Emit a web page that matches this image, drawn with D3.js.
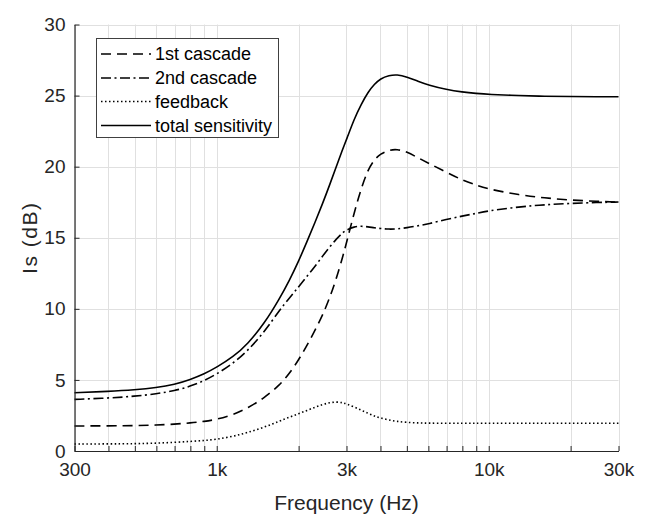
<!DOCTYPE html>
<html><head><meta charset="utf-8">
<script src="https://cdn.jsdelivr.net/npm/d3@7"></script>
<style>body{margin:0;background:#fff}svg{display:block}</style>
</head><body><div id="chart"></div>
<script>
const freq =      [300, 400, 500, 600, 700, 800, 900, 1000, 1150, 1300, 1500, 1700, 1850, 2000, 2150, 2300, 2450, 2600, 2750, 2900, 3000, 3200, 3400, 3600, 3800, 4000, 4300, 4600, 5000, 5500, 6000, 7000, 8000, 9000, 10000, 13000, 16000, 20000, 25000, 30000];
const cascade1 =  [1.76, 1.77, 1.78, 1.82, 1.89, 1.97, 2.08, 2.22, 2.55, 3.02, 3.75, 4.62, 5.45, 6.40, 7.45, 8.50, 9.55, 10.75, 12.1, 13.6, 14.65, 16.75, 18.5, 19.8, 20.5, 20.9, 21.17, 21.23, 21.05, 20.62, 20.25, 19.6, 19.05, 18.7, 18.42, 18.0, 17.8, 17.65, 17.56, 17.51];
const cascade2 =  [3.63, 3.72, 3.85, 4.02, 4.24, 4.55, 4.95, 5.41, 6.17, 7.05, 8.40, 9.90, 10.75, 11.55, 12.3, 13.0, 13.7, 14.35, 14.9, 15.35, 15.55, 15.78, 15.82, 15.77, 15.70, 15.65, 15.6, 15.62, 15.70, 15.84, 15.98, 16.29, 16.53, 16.71, 16.90, 17.18, 17.32, 17.42, 17.48, 17.51];
const feedback =  [0.49, 0.50, 0.51, 0.55, 0.61, 0.67, 0.74, 0.82, 1.03, 1.30, 1.68, 2.10, 2.38, 2.62, 2.86, 3.08, 3.27, 3.40, 3.46, 3.40, 3.32, 3.10, 2.87, 2.65, 2.46, 2.32, 2.18, 2.08, 2.01, 1.97, 1.96, 1.95, 1.95, 1.95, 1.95, 1.95, 1.95, 1.95, 1.95, 1.95];
const total =     [4.10, 4.19, 4.30, 4.45, 4.68, 5.03, 5.42, 5.89, 6.62, 7.52, 9.00, 10.7, 12.0, 13.35, 14.75, 16.1, 17.4, 18.7, 20.0, 21.2, 21.9, 23.35, 24.4, 25.25, 25.8, 26.2, 26.42, 26.48, 26.32, 26.0, 25.74, 25.42, 25.25, 25.15, 25.08, 25.0, 24.95, 24.93, 24.92, 24.92];
const xTickValues = [300, 1000, 3000, 10000, 30000];
const xTickLabels = ["300", "1k", "3k", "10k", "30k"];
const yTickValues = [0, 5, 10, 15, 20, 25, 30];
const seriesNames = ["1st cascade", "2nd cascade", "feedback", "total sensitivity"];
const xTitle = "Frequency (Hz)";
const yTitle = "Is (dB)";

const W = 645, H = 529;
const m = {left: 74.5, right: 645 - 618.5, top: 24.5, bottom: 529 - 451};
const svg = d3.select("#chart").append("svg").attr("width", W).attr("height", H)
  .style("font-family", "Arial, 'Liberation Sans', Helvetica, sans-serif");

const x = d3.scaleLog().domain([300, 30000]).range([m.left, W - m.right]);
const y = d3.scaleLinear().domain([0, 30]).range([H - m.bottom, m.top]);

const axisColor = "#262626";
const gridColor = "#e0e0e0";

// grid
const minorTicks = x.ticks();
svg.append("g").selectAll("line").data(minorTicks).join("line")
  .attr("x1", d => Math.round(x(d)) + 0.5).attr("x2", d => Math.round(x(d)) + 0.5)
  .attr("y1", y(0)).attr("y2", y(30))
  .attr("stroke", gridColor).attr("stroke-width", 1);
svg.append("g").selectAll("line").data(yTickValues).join("line")
  .attr("x1", x(300)).attr("x2", x(30000))
  .attr("y1", d => Math.round(y(d)) + 0.5).attr("y2", d => Math.round(y(d)) + 0.5)
  .attr("stroke", gridColor).attr("stroke-width", 1);

// series
const line = d3.line().x(d => x(d[0])).y(d => y(d[1])).curve(d3.curveBasis);
const series = [
  {name: seriesNames[0], vals: cascade1, dash: "10,6"},
  {name: seriesNames[1], vals: cascade2, dash: "10,3.5,2,3.5"},
  {name: seriesNames[2], vals: feedback, dash: "1.5,2.5"},
  {name: seriesNames[3], vals: total, dash: null}
];
const plot = svg.append("g");
series.forEach(s => {
  plot.append("path").datum(freq.map((f, i) => [f, s.vals[i]]))
    .attr("d", line).attr("fill", "none").attr("stroke", "#000")
    .attr("stroke-width", 1.6).attr("stroke-dasharray", s.dash);
});

// axes
const xAxis = svg.append("g").attr("transform", `translate(0,${y(0)})`)
  .call(d3.axisBottom(x).tickValues(minorTicks).tickSizeInner(-5).tickSizeOuter(0)
    .tickFormat(d => { const i = xTickValues.indexOf(d); return i >= 0 ? xTickLabels[i] : ""; }));
xAxis.select(".domain").attr("stroke", axisColor).attr("stroke-width", 1.2);
xAxis.selectAll(".tick line").attr("stroke", axisColor);
xAxis.selectAll(".tick text").attr("fill", axisColor).attr("font-size", 19).attr("y", 12).attr("dy", "0.71em");

const yAxis = svg.append("g").attr("transform", `translate(${x(300)},0)`)
  .call(d3.axisLeft(y).tickValues(yTickValues).tickSizeInner(-5).tickSizeOuter(0));
yAxis.select(".domain").attr("stroke", axisColor).attr("stroke-width", 1.2);
yAxis.selectAll(".tick line").attr("stroke", axisColor);
yAxis.selectAll(".tick text").attr("fill", axisColor).attr("font-size", 19).attr("x", -9);

svg.append("text").attr("x", (x(300) + x(30000)) / 2).attr("y", 510)
  .attr("text-anchor", "middle").attr("font-size", 21).attr("fill", axisColor).text(xTitle);
svg.append("text").attr("transform", `translate(37,${(y(0) + y(30)) / 2}) rotate(-90)`)
  .attr("text-anchor", "middle").attr("font-size", 21).attr("letter-spacing", 1.5)
  .attr("fill", axisColor).text(yTitle);

// legend
const lg = svg.append("g");
lg.append("rect").attr("x", 96.5).attr("y", 38.5).attr("width", 182).attr("height", 99)
  .attr("fill", "#fff").attr("stroke", "#404040").attr("stroke-width", 1);
const legY = [54, 78, 101.5, 125.5];
series.forEach((s, i) => {
  lg.append("line").attr("x1", 101).attr("x2", 151).attr("y1", legY[i]).attr("y2", legY[i])
    .attr("stroke", "#000").attr("stroke-width", 1.6).attr("stroke-dasharray", s.dash);
  lg.append("text").attr("x", 155).attr("y", legY[i]).attr("dy", "0.35em")
    .attr("font-size", 18).attr("fill", "#000").text(s.name);
});
</script></body></html>
